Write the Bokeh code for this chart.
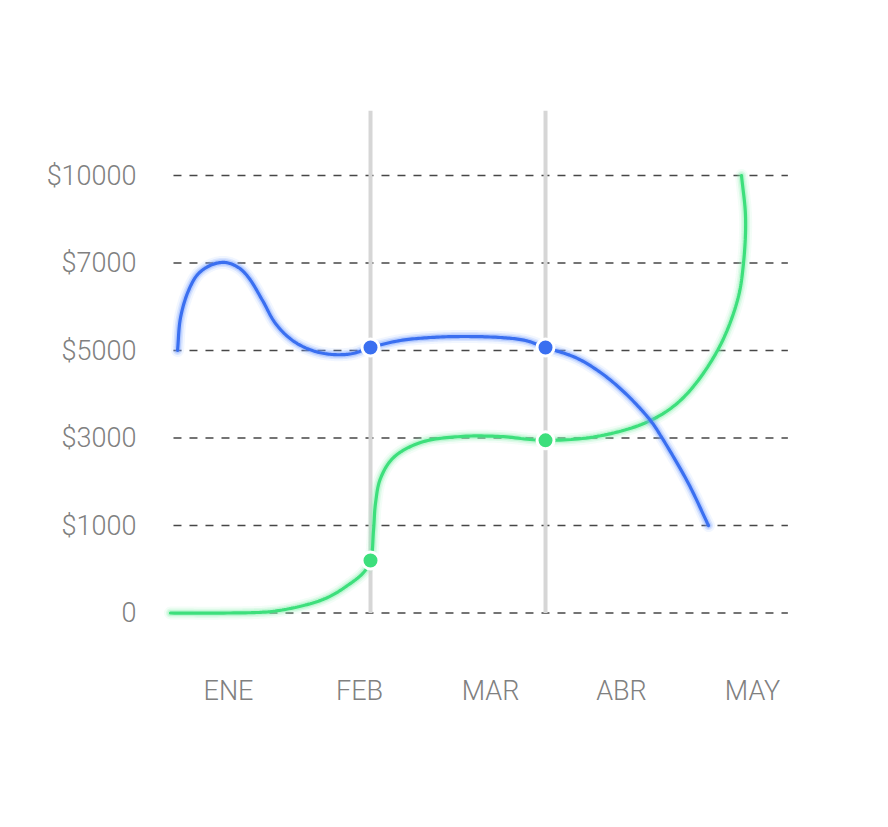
import numpy as np
from bokeh.plotting import figure
from bokeh.models import FixedTicker, Range1d
from bokeh.embed import file_html
from bokeh.resources import INLINE

# ---------------- data ----------------
MONTHS = ["ENE", "FEB", "MAR", "ABR", "MAY"]
MONTH_X = [1, 2, 3, 4, 5]
Y_TICK_VALUES = [0, 1000, 3000, 5000, 7000, 10000]
Y_TICK_LABELS = ["0", "$1000", "$3000", "$5000", "$7000", "$10000"]

# blue series (x in month units, y in dollars)
BLUE_X = [0.611, 0.634, 0.695, 0.771, 0.878, 0.977, 1.076, 1.153, 1.26, 1.359,
          1.489, 1.641, 1.794, 1.947, 2.084, 2.313, 2.542, 2.771, 3.076, 3.267, 3.42,
          3.649, 3.84, 4.031, 4.221, 4.31, 4.511, 4.664]
BLUE_Y = [5000, 5754, 6371, 6760, 6966, 7017, 6897, 6669, 6143, 5617,
          5229, 5000, 4909, 4931, 5069, 5229, 5297, 5320, 5297, 5229, 5069,
          4840, 4497, 4017, 3400, 3000, 1960, 1000]

# green series
GREEN_X = [0.557, 0.992, 1.321, 1.573, 1.756, 1.908, 2.031, 2.084, 2.107, 2.122, 2.16,
           2.26, 2.466, 2.771, 3.076, 3.42, 3.84, 4.221, 4.473, 4.733, 4.885, 4.931,
           4.947, 4.916]
GREEN_Y = [0, 0, 17, 86, 177, 314, 463, 600, 943, 1503, 2074,
           2554, 2897, 3034, 3034, 2947, 3051, 3400, 3926, 5000, 6143, 6989,
           8560, 10000]

# highlighted points
MARK_X = [2.084, 3.42]
BLUE_MARK_Y = [5069, 5069]
GREEN_MARK_Y = [600, 2947]

# ---------------- helpers ----------------
LEVELS = list(range(len(Y_TICK_VALUES)))


def to_level(vals):
    return np.interp(np.asarray(vals, dtype=float), Y_TICK_VALUES, LEVELS)


def smooth(xs, ys, n=16, alpha=0.5, sx=131.0, sy=87.5):
    P = np.column_stack([np.asarray(xs) * sx, np.asarray(ys) * sy])
    P = np.vstack([2 * P[0] - P[1], P, 2 * P[-1] - P[-2]])
    out = []
    for i in range(1, len(P) - 2):
        p0, p1, p2, p3 = P[i - 1], P[i], P[i + 1], P[i + 2]
        t0 = 0.0
        t1 = t0 + np.linalg.norm(p1 - p0) ** alpha
        t2 = t1 + np.linalg.norm(p2 - p1) ** alpha
        t3 = t2 + np.linalg.norm(p3 - p2) ** alpha
        t = np.linspace(t1, t2, n)[:, None]
        A1 = (t1 - t) / (t1 - t0) * p0 + (t - t0) / (t1 - t0) * p1
        A2 = (t2 - t) / (t2 - t1) * p1 + (t - t1) / (t2 - t1) * p2
        A3 = (t3 - t) / (t3 - t2) * p2 + (t - t2) / (t3 - t2) * p3
        B1 = (t2 - t) / (t2 - t0) * A1 + (t - t0) / (t2 - t0) * A2
        B2 = (t3 - t) / (t3 - t1) * A2 + (t - t1) / (t3 - t1) * A3
        C = (t2 - t) / (t2 - t1) * B1 + (t - t1) / (t2 - t1) * B2
        out.append(C if i == 1 else C[1:])
    R = np.vstack(out)
    return R[:, 0] / sx, R[:, 1] / sy


# ---------------- figure ----------------
FONT = "Roboto Light"
TEXT_COLOR = "#808080"
BLUE = "#3a6ff0"
BLUE_GLOW = "#7aa2ff"
GREEN = "#3ddf7c"
GREEN_GLOW = "#86f0b0"

p = figure(width=870, height=805, output_backend="svg", toolbar_location=None,
           x_range=Range1d(0.4809, 5.3664), y_range=Range1d(-0.314, 5.743),
           min_border_left=160, min_border_right=70, min_border_top=110,
           min_border_bottom=165)
p.outline_line_color = None
p.background_fill_color = "white"
p.border_fill_color = "white"
p.xgrid.visible = False
p.ygrid.visible = False

# axes
p.xaxis.ticker = FixedTicker(ticks=MONTH_X)
p.xaxis.major_label_overrides = {x: m for x, m in zip(MONTH_X, MONTHS)}
p.yaxis.ticker = FixedTicker(ticks=LEVELS)
p.yaxis.major_label_overrides = {l: t for l, t in zip(LEVELS, Y_TICK_LABELS)}
for ax in (p.xaxis[0], p.yaxis[0]):
    ax.axis_line_color = None
    ax.major_tick_line_color = None
    ax.minor_tick_line_color = None
    ax.major_tick_out = 0
    ax.major_tick_in = 0
    ax.major_label_text_font = FONT
    ax.major_label_text_font_size = "27px"
    ax.major_label_text_color = TEXT_COLOR
p.xaxis.major_label_standoff = 34
p.yaxis.major_label_standoff = 24

# dashed horizontal grid
GRID_X0, GRID_X1 = 0.58, 5.27
p.segment(x0=[GRID_X0] * len(LEVELS), x1=[GRID_X1] * len(LEVELS), y0=LEVELS, y1=LEVELS,
          line_color="#333333", line_width=1.3, line_dash="8 8", line_alpha=0.9)

# vertical highlight lines
p.segment(x0=MARK_X, x1=MARK_X, y0=[0] * len(MARK_X), y1=[p.y_range.end] * len(MARK_X),
          line_color="#d6d6d6", line_width=4)

# curves with glow
for xs, ys, col, glow in ((GREEN_X, GREEN_Y, GREEN, GREEN_GLOW),
                          (BLUE_X, BLUE_Y, BLUE, BLUE_GLOW)):
    cx, cy = smooth(xs, to_level(ys))
    p.line(cx, cy, line_color=glow, line_width=13, line_alpha=0.10, line_cap="round")
    p.line(cx, cy, line_color=glow, line_width=9, line_alpha=0.20, line_cap="round")
    p.line(cx, cy, line_color=glow, line_width=6, line_alpha=0.35, line_cap="round")
    p.line(cx, cy, line_color=col, line_width=3.2, line_cap="round")

# markers
p.scatter(MARK_X, to_level(BLUE_MARK_Y), size=17, fill_color=BLUE,
          line_color="white", line_width=3)
p.scatter(MARK_X, to_level(GREEN_MARK_Y), size=17, fill_color=GREEN,
          line_color="white", line_width=3)

open("out.html", "w").write(file_html(p, INLINE))
